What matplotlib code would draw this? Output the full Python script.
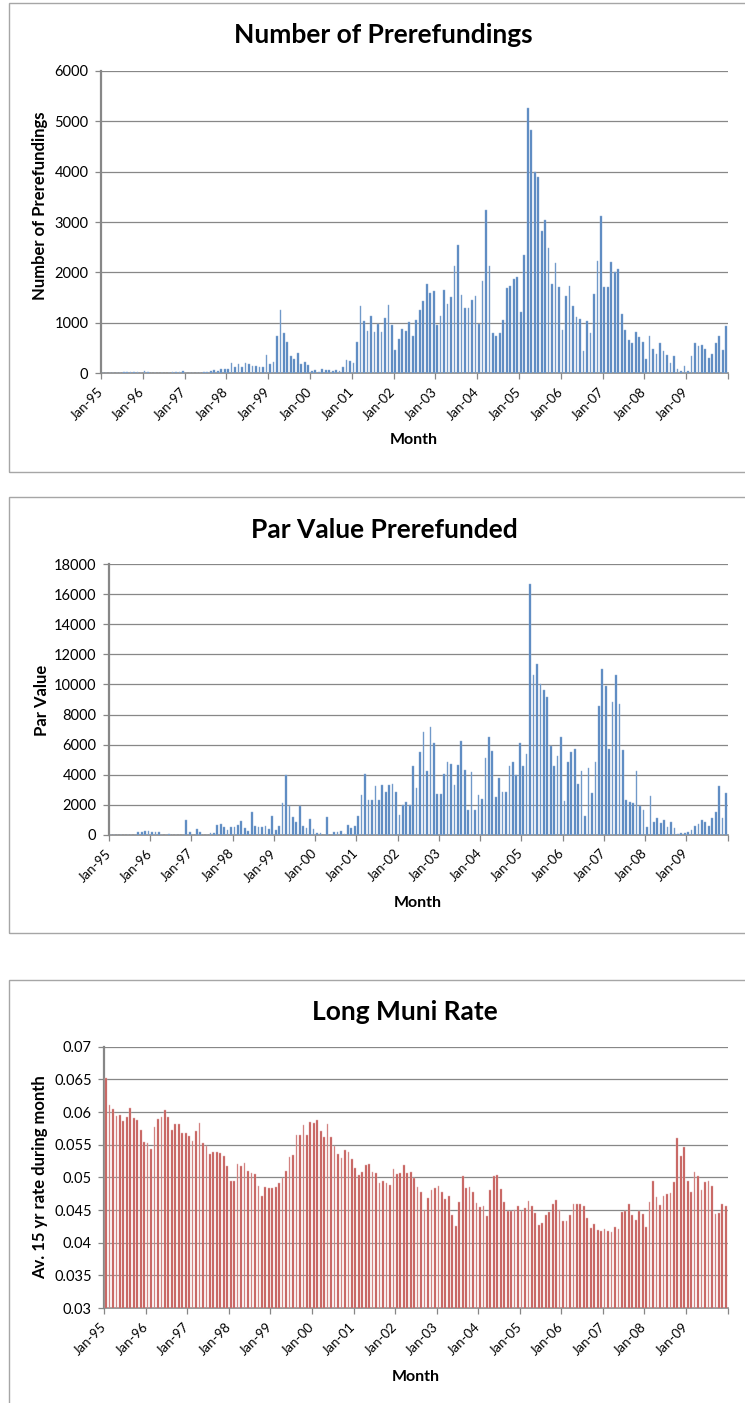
import numpy as np
import matplotlib
matplotlib.use('Agg')
import matplotlib.pyplot as plt
from matplotlib.patches import Rectangle

plt.rcParams['font.family'] = ['Lato', 'DejaVu Sans']

# monthly data, Jan-95 .. Dec-09 (one row per year)
n_prerefundings = [
    0, 0, 5, 5, 10, 15, 20, 25, 25, 30, 35, 15,
    40, 25, 10, 5, 15, 10, 10, 5, 20, 25, 25, 50,
    5, 10, 10, 5, 15, 20, 33, 50, 65, 50, 80, 80,
    92, 200, 130, 185, 130, 200, 180, 145, 145, 130, 130, 360,
    180, 230, 740, 1250, 800, 625, 350, 285, 400, 185, 220, 165,
    50, 60, 35, 85, 65, 65, 50, 65, 45, 125, 257, 250,
    205, 620, 1340, 1035, 837, 1134, 824, 975, 824, 1094, 1364, 955,
    468, 680, 870, 830, 1015, 738, 1055, 1250, 1424, 1767, 1602, 1635,
    955, 1134, 1648, 1371, 1516, 2136, 2551, 1562, 1292, 1292, 1444, 1523,
    976, 1826, 3243, 2129, 804, 738, 791, 1055, 1694, 1740, 1866, 1912,
    1213, 2340, 5260, 4832, 3988, 3883, 2815, 3032, 2492, 1767, 2189, 1714,
    857, 1536, 1740, 1325, 1120, 1075, 435, 1035, 790, 1570, 2236, 3114,
    1720, 1720, 2210, 2000, 2070, 1180, 850, 660, 600, 820, 720, 620,
    280, 740, 480, 385, 610, 450, 360, 200, 350, 90, 50, 140,
    40, 350, 593, 541, 560, 474, 297, 375, 607, 738, 462, 943,
]

par_value = [
    0, 0, 0, 0, 0, 0, 0, 0, 155, 155, 244, 244,
    178, 200, 200, 0, 0, 67, 0, 0, 0, 0, 954, 155,
    0, 355, 155, 0, 0, 89, 89, 621, 710, 488, 288, 488,
    510, 621, 910, 444, 266, 1509, 555, 488, 488, 577, 355, 1220,
    333, 577, 2108, 3994, 1930, 1176, 843, 1930, 555, 466, 1043, 400,
    111, 111, 0, 1176, 0, 178, 178, 222, 67, 621, 444, 555,
    1243, 2640, 4039, 2308, 2286, 3240, 2308, 3329, 2818, 3306, 3395, 2840,
    1309, 1953, 2152, 1953, 4549, 3084, 5503, 6812, 4238, 7145, 6102, 2685,
    2685, 4061, 4815, 4682, 3284, 4638, 6213, 4283, 1664, 4150, 1620, 2663,
    2352, 5104, 6524, 5548, 2530, 3750, 2818, 2818, 4549, 4837, 3994, 6080,
    4549, 5370, 16665, 10607, 11339, 10008, 9608, 9187, 5903, 4571, 5215, 6480,
    2263, 4837, 5503, 5703, 3373, 4238, 1220, 4416, 2752, 4837, 8565, 11028,
    9919, 5703, 8832, 10651, 8721, 5636, 2308, 2152, 2086, 4238, 1930, 1642,
    533, 2574, 843, 1132, 799, 976, 488, 843, 444, 30, 111, 133,
    200, 311, 599, 710, 976, 821, 555, 1087, 1509, 3218, 1132, 2752,
]

muni_rate = [
    0.06515, 0.06112, 0.06041, 0.05939, 0.05954, 0.05862, 0.05918, 0.06061, 0.05903, 0.05872, 0.05724, 0.05536,
    0.05520, 0.05434, 0.05776, 0.05888, 0.05929, 0.06026, 0.05918, 0.05719, 0.05821, 0.05821, 0.05679, 0.05684,
    0.05638, 0.05551, 0.05704, 0.05827, 0.05520, 0.05474, 0.05362, 0.05383, 0.05383, 0.05367, 0.05327, 0.05179,
    0.04944, 0.04939, 0.05199, 0.05173, 0.05214, 0.05092, 0.05071, 0.05046, 0.04867, 0.04719, 0.04847, 0.04832,
    0.04837, 0.04852, 0.04913, 0.04995, 0.05097, 0.05311, 0.05342, 0.05648, 0.05648, 0.05801, 0.05648, 0.05847,
    0.05832, 0.05878, 0.05704, 0.05617, 0.05811, 0.05622, 0.05485, 0.05352, 0.05296, 0.05418, 0.05388, 0.05286,
    0.05143, 0.05036, 0.05077, 0.05189, 0.05199, 0.05087, 0.05071, 0.04913, 0.04944, 0.04908, 0.04883, 0.05122,
    0.05051, 0.05061, 0.05184, 0.05071, 0.05087, 0.04995, 0.04852, 0.04770, 0.04500, 0.04679, 0.04806, 0.04842,
    0.04862, 0.04770, 0.04673, 0.04719, 0.04423, 0.04260, 0.04622, 0.05026, 0.04837, 0.04852, 0.04776, 0.04602,
    0.04541, 0.04561, 0.04413, 0.04801, 0.05026, 0.05036, 0.04827, 0.04622, 0.04490, 0.04490, 0.04500, 0.04556,
    0.04484, 0.04526, 0.04643, 0.04561, 0.04454, 0.04270, 0.04306, 0.04418, 0.04464, 0.04597, 0.04648, 0.04495,
    0.04332, 0.04337, 0.04423, 0.04597, 0.04597, 0.04587, 0.04561, 0.04378, 0.04224, 0.04281, 0.04200, 0.04180,
    0.04210, 0.04180, 0.04160, 0.04235, 0.04210, 0.04474, 0.04484, 0.04587, 0.04423, 0.04352, 0.04490, 0.04439,
    0.04240, 0.04617, 0.04944, 0.04694, 0.04577, 0.04719, 0.04745, 0.04765, 0.04929, 0.05597, 0.05327, 0.05459,
    0.04944, 0.04776, 0.05082, 0.05015, 0.04801, 0.04929, 0.04939, 0.04862, 0.04434, 0.04454, 0.04597, 0.04566,
]

year_labels = ['Jan-95', 'Jan-96', 'Jan-97', 'Jan-98', 'Jan-99', 'Jan-00', 'Jan-01', 'Jan-02',
               'Jan-03', 'Jan-04', 'Jan-05', 'Jan-06', 'Jan-07', 'Jan-08', 'Jan-09']
rate_ticks = [0.03, 0.035, 0.04, 0.045, 0.05, 0.055, 0.06, 0.065, 0.07]
rate_tick_labels = ['0.03', '0.035', '0.04', '0.045', '0.05', '0.055', '0.06', '0.065', '0.07']

W, H = 745, 1403
fig = plt.figure(figsize=(W / 100, H / 100), dpi=100)

def px_axes(left, top, right, bottom):
    return fig.add_axes([left / W, 1 - bottom / H, (right - left) / W, (bottom - top) / H])

def px_text(x, y, s, **kw):
    fig.text(x / W, 1 - y / H, s, ha='center', va='center', **kw)

def frame(left, top, right, bottom):
    fig.add_artist(Rectangle((left / W, 1 - bottom / H), (right - left) / W, (bottom - top) / H,
                             transform=fig.transFigure, fill=False, ec='#a6a6a6', lw=1.0))

grid_c = '#878787'

def style_axes(ax, values, color, edge):
    x = np.arange(len(values)) + 0.5
    ax.bar(x, values, width=0.5, color=color, edgecolor=edge, linewidth=0.35, zorder=3)
    ax.set_xlim(0, len(values))
    ticks = list(range(0, len(values) + 1, 12))
    ax.set_xticks(ticks)
    ax.set_xticklabels(year_labels + [''], rotation=45, ha='right', va='center',
                       rotation_mode='anchor', fontsize=9.5)
    ax.yaxis.grid(True, color=grid_c, lw=0.9, zorder=0)
    ax.set_axisbelow(True)
    for s in ['top', 'right']:
        ax.spines[s].set_visible(False)
    ax.spines['left'].set_color(grid_c)
    ax.spines['left'].set_linewidth(1.6)
    ax.spines['bottom'].set_color(grid_c)
    ax.spines['bottom'].set_linewidth(1.2)
    ax.tick_params(axis='both', colors=grid_c, labelcolor='black', length=4, width=0.9)
    ax.tick_params(axis='x', pad=8)
    ax.tick_params(axis='y', labelsize=10.5, pad=5)

# panel 1
frame(9, 3, 760, 471.7)
ax1 = px_axes(101, 70.7, 728, 373.3)
style_axes(ax1, n_prerefundings, '#4f81bd', '#95b3d7')
ax1.set_ylim(0, 6000)
ax1.set_yticks(range(0, 6001, 1000))
px_text(383, 35, 'Number of Prerefundings', fontsize=19, fontweight='bold')
px_text(40, 206, 'Number of Prerefundings', fontsize=12, fontweight='bold', rotation=90)
px_text(414, 440, 'Month', fontsize=11.5, fontweight='bold')

# panel 2
frame(9, 497.3, 760, 933.3)
ax2 = px_axes(109, 564.3, 727.7, 834.7)
style_axes(ax2, par_value, '#4f81bd', '#95b3d7')
ax2.set_ylim(0, 18000)
ax2.set_yticks(range(0, 18001, 2000))
px_text(384, 530, 'Par Value Prerefunded', fontsize=19, fontweight='bold')
px_text(42, 700, 'Par Value', fontsize=12, fontweight='bold', rotation=90)
px_text(418, 903, 'Month', fontsize=11.5, fontweight='bold')

# panel 3
frame(9, 980, 760, 1420)
ax3 = px_axes(104.3, 1046.7, 727.5, 1308)
style_axes(ax3, muni_rate, '#c0504d', '#e6b9b8')
ax3.set_ylim(0.03, 0.07)
ax3.set_yticks(rate_ticks)
ax3.set_yticklabels(rate_tick_labels)
px_text(405, 1012, 'Long Muni Rate', fontsize=19, fontweight='bold')
px_text(40, 1177, 'Av. 15 yr rate during month', fontsize=12, fontweight='bold', rotation=90)
px_text(416, 1377, 'Month', fontsize=11.5, fontweight='bold')

plt.savefig('out.png', dpi=100)
